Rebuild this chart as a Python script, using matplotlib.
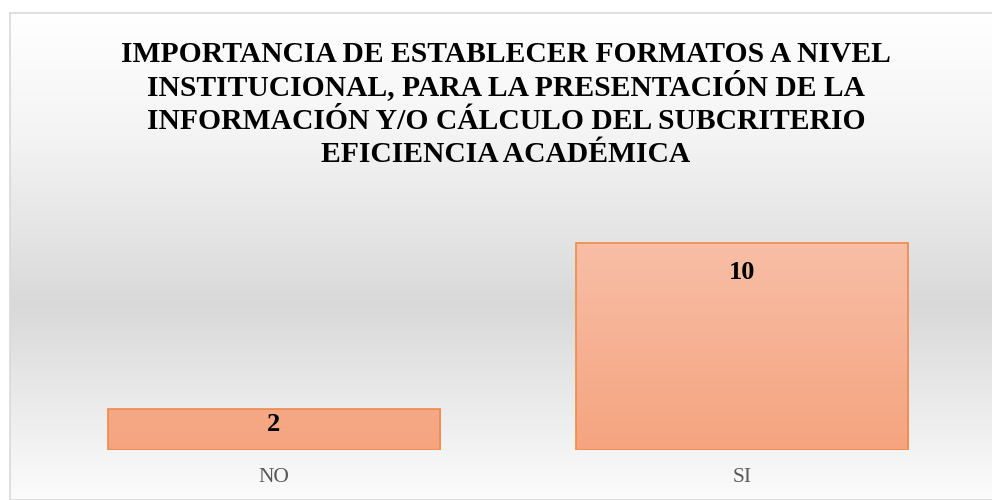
import numpy as np
import matplotlib.pyplot as plt
from matplotlib.colors import LinearSegmentedColormap

# data
categories = ['NO', 'SI']
values = [2, 10]
title_lines = ['IMPORTANCIA DE ESTABLECER FORMATOS A NIVEL',
               'INSTITUCIONAL, PARA LA PRESENTACIÓN DE LA',
               'INFORMACIÓN Y/O CÁLCULO DEL SUBCRITERIO',
               'EFICIENCIA ACADÉMICA']

plt.rcParams['font.family'] = ['Liberation Serif', 'DejaVu Serif']

fig = plt.figure(figsize=(9.92, 5), dpi=100)
fig.patch.set_facecolor('white')

# chart area background (gray gradient) with thin border
bg = fig.add_axes([10 / 992, 0, 1.0, 1 - 13 / 500], zorder=0)
bg_cmap = LinearSegmentedColormap.from_list(
    'bg', [(0, '#ffffff'), (0.25, '#f4f4f4'), (0.6, '#d9d9d9'), (1, '#fcfcfc')])
grad = np.linspace(0, 1, 256).reshape(-1, 1)
bg.imshow(grad, aspect='auto', cmap=bg_cmap, extent=[0, 1, 0, 1], origin='upper')
bg.set_xlim(0, 1)
bg.set_ylim(0, 1)
bg.set_xticks([])
bg.set_yticks([])
for s in bg.spines.values():
    s.set_color('#d9d9d9')
    s.set_linewidth(1.2)

# plot axes
ax = fig.add_axes([40 / 992, 50 / 500, 936 / 992, 248.4 / 500], zorder=1)
ax.patch.set_alpha(0)
x = np.arange(len(categories))
bars = ax.bar(x, values, width=0.71, color='none', edgecolor='#f08a4b', linewidth=1.2, zorder=3)

bar_cmap = LinearSegmentedColormap.from_list('bar', ['#f8bea6', '#f5a47f'])
for b in bars:
    x0, y0 = b.get_x(), b.get_y()
    w, h = b.get_width(), b.get_height()
    im = ax.imshow(grad, aspect='auto', cmap=bar_cmap, origin='upper',
                   extent=[x0, x0 + w, 0, 10], zorder=2)
    im.set_clip_path(b)
    off = min(1.43, 0.375 * h)
    ax.text(x0 + w / 2, y0 + h - off, str(int(h)), ha='center', va='center',
            fontsize=19, fontweight='bold', color='black', zorder=4)

ax.set_xlim(-0.5, len(categories) - 0.5)
ax.set_ylim(0, 12)
ax.set_xticks(x)
ax.set_xticklabels(categories, fontsize=15.5, color='#595959')
ax.tick_params(axis='x', length=0, pad=13)
ax.set_yticks([])
for s in ax.spines.values():
    s.set_visible(False)

# title, one line at a time so the spacing stays even
for i, line in enumerate(title_lines):
    fig.text(506 / 992, 1 - (62 + 33.4 * i) / 500, line, ha='center', va='baseline',
             fontsize=21.3, fontweight='bold', color='black')

fig.savefig('out.png', dpi=100)
